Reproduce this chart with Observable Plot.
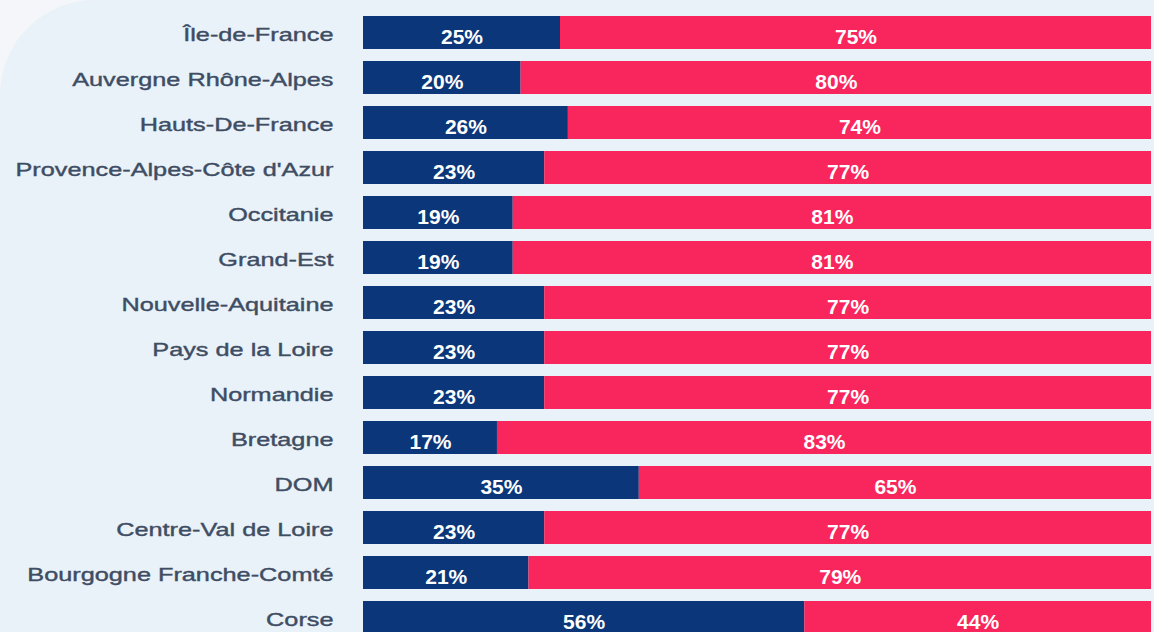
<!DOCTYPE html>
<html><head><meta charset="utf-8">
<script src="https://cdn.jsdelivr.net/npm/d3@7"></script>
<script src="https://cdn.jsdelivr.net/npm/@observablehq/plot@0.6"></script>
<style>
html,body{margin:0;padding:0;background:#f4f6f9;overflow:hidden;}
#panel{position:absolute;left:0;top:0;width:1154px;height:632px;background:#e9f1f9;border-top-left-radius:95px;overflow:hidden;}
</style></head><body><div id="panel"></div>
<script>
const regions = ["Île-de-France","Auvergne Rhône-Alpes","Hauts-De-France","Provence-Alpes-Côte d'Azur","Occitanie","Grand-Est","Nouvelle-Aquitaine","Pays de la Loire","Normandie","Bretagne","DOM","Centre-Val de Loire","Bourgogne Franche-Comté","Corse"];
const shareFirst = [25,20,26,23,19,19,23,23,23,17,35,23,21,56];
const shareSecond = [75,80,74,77,81,81,77,77,77,83,65,77,79,44];
const groups = ["Part 1","Part 2"];
const colors = ["#0b3679","#f9265e"];

const data = regions.flatMap((r,i)=>[
  {region:r, group:groups[0], value:shareFirst[i]},
  {region:r, group:groups[1], value:shareSecond[i]}
]);

const chart = Plot.plot({
  width:1154, height:632,
  marginLeft:363, marginRight:3, marginTop:0, marginBottom:0,
  style:{background:"transparent", overflow:"visible", color:"#3e4d63", fontFamily:"'Liberation Sans', Arial, sans-serif"},
  x:{domain:[0,100], axis:null},
  y:{domain:regions, range:[3.3,647.8], padding:0.259, label:null, axis:null},
  color:{domain:groups, range:colors},
  marks:[
    Plot.barX(data, Plot.stackX({x:"value", y:"region", fill:"group", order:groups})),
    Plot.textX(data, Plot.stackX({x:"value", y:"region", z:"group", order:groups, text:d=>d.value+"%", fill:"white", fontWeight:"bold", fontSize:21, dy:4})),
    Plot.axisY({tickSize:0, tickPadding:30, fontSize:19, dy:2, label:null})
  ]
});
document.getElementById("panel").appendChild(chart);
chart.querySelectorAll('g[aria-label="y-axis tick label"] text').forEach(t=>{
  const L = t.getComputedTextLength();
  t.setAttribute("textLength", (L*1.33).toFixed(1));
  t.setAttribute("lengthAdjust","spacingAndGlyphs");
  t.style.stroke = "#3e4d63";
  t.style.strokeWidth = "0.4px";
});
</script></body></html>
